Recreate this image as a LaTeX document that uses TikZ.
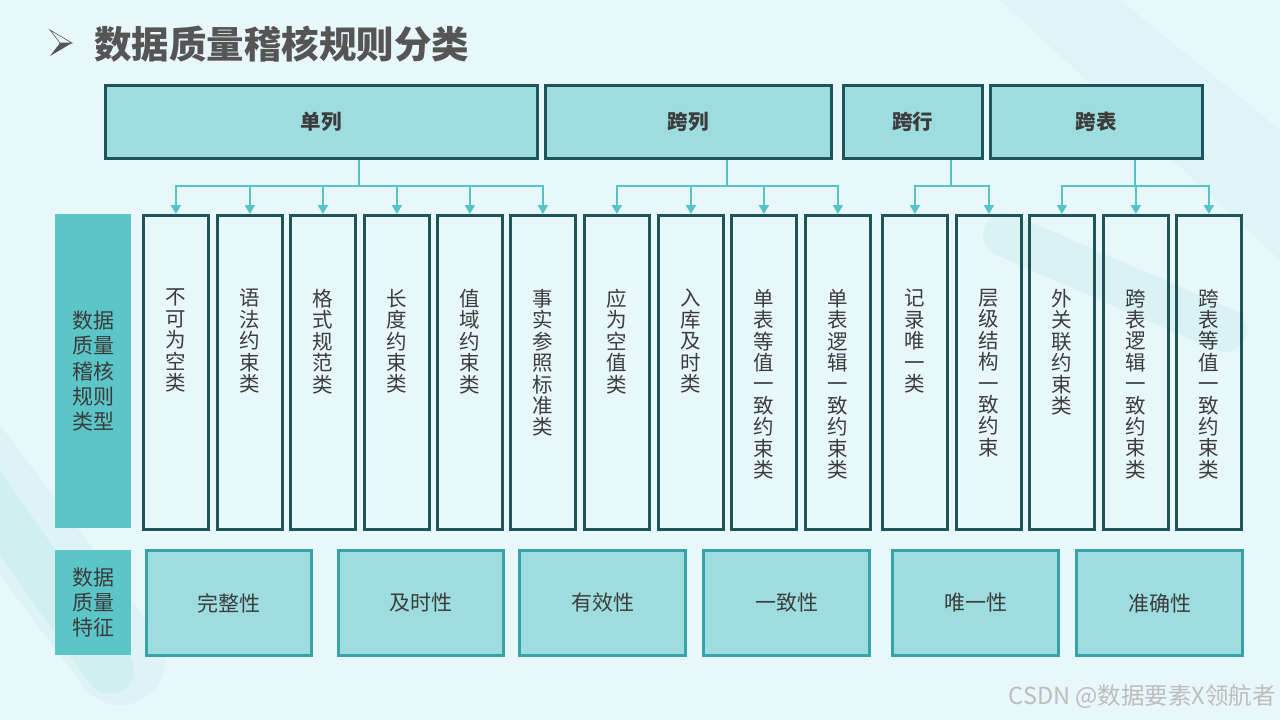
\documentclass[tikz,border=0pt]{standalone}
\usepackage{fontspec}
\setmainfont{Noto Sans CJK SC}
\usetikzlibrary{arrows.meta,calc}
\definecolor{bg}{HTML}{E8F7FA}
\definecolor{boxfill}{HTML}{9EDDDF}
\definecolor{darkline}{HTML}{1F5558}
\definecolor{labfill}{HTML}{5BC5C8}
\definecolor{botline}{HTML}{37A2A7}
\definecolor{connc}{HTML}{55C3C8}
\definecolor{txt}{HTML}{3C3C3C}
\definecolor{titlec}{HTML}{555555}
\definecolor{deco}{HTML}{C6ECEC}
\definecolor{wm}{HTML}{BDBDBD}
\begin{document}
\begin{tikzpicture}[x=1pt,y=-1pt,
  topbox/.style={draw=darkline, line width=2.5pt, fill=boxfill, minimum height=73pt,
    anchor=north west, inner sep=0pt, font=\fontsize{20.5}{24}\selectfont\bfseries, text=txt},
  colbox/.style={draw=darkline, line width=2.8pt, minimum width=65pt, minimum height=314pt,
    anchor=north west, inner sep=0pt},
  coltext/.style={anchor=north, align=center, inner sep=0pt, text=txt,
    font=\fontsize{20.5}{21.4}\selectfont},
  labbox/.style={fill=labfill, minimum width=76pt, anchor=north west, inner sep=0pt},
  labtext/.style={align=center, inner sep=0pt, text=txt, font=\fontsize{21}{25.3}\selectfont},
  botbox/.style={draw=botline, line width=3pt, fill=boxfill, minimum width=165pt, minimum height=105pt,
    anchor=north west, inner sep=0pt, text=txt, font=\fontsize{21}{24}\selectfont},
  conn/.style={draw=connc, line width=2pt},
  arr/.style={conn, -{Triangle[width=10pt,length=9pt]}}
]
\useasboundingbox (0,0) rectangle (1280,720);
\fill[bg] (0,0) rectangle (1280,720);
% faint background decoration
\begin{scope}
\clip (0,0) rectangle (1280,720);
\draw[deco, opacity=0.3, line width=90pt, line cap=round] (-60,420) -- (120,660);
\draw[deco, opacity=0.5, line width=48pt, line cap=round] (-30,470) -- (110,670);
\fill[deco, opacity=0.25] (1000,0) -- (1120,0) -- (1280,130) -- (1280,260) -- cycle;
\draw[deco, opacity=0.4, line width=44pt, line cap=round] (1005,235) -- (1225,330);
\end{scope}
% title
\fill[titlec] (60,43) -- (72,43) -- (50,56) -- cycle;
\draw[titlec, line width=0.6pt] (50,30) -- (72,43) -- (60,43) -- cycle;
\node[anchor=west, inner sep=0pt, text=titlec, font=\fontsize{37.5}{40}\selectfont\bfseries] (title) at (94,44) {数据质量稽核规则分类};
% top boxes
\node[topbox, minimum width=432pt] (p1) at (104,84) {单列};
\node[topbox, minimum width=286pt] (p2) at (544,84) {跨列};
\node[topbox, minimum width=139pt] (p3) at (842,84) {跨行};
\node[topbox, minimum width=212pt] (p4) at (989,84) {跨表};
% label boxes
\node[labbox, minimum height=314pt] (l1) at (55,214) {};
\node[labtext] (l1t) at (l1.center) {数据\\质量\\稽核\\规则\\类型};
\node[labbox, minimum height=105pt] (l2) at (55,550) {};
\node[labtext] (l2t) at (l2.center) {数据\\质量\\特征};
% column boxes
\foreach \i/\xx in {1/142,2/216,3/289,4/363,5/436,6/509,7/583,8/657,9/730,10/804,11/881,12/955,13/1028,14/1102,15/1175}
  \node[colbox] (c\i) at (\xx,214) {};
\node[coltext] (t1) at ([yshift=-75pt]c1.north) {不\\可\\为\\空\\类};
\node[coltext] (t2) at ([yshift=-75pt]c2.north) {语\\法\\约\\束\\类};
\node[coltext] (t3) at ([yshift=-75pt]c3.north) {格\\式\\规\\范\\类};
\node[coltext] (t4) at ([yshift=-75pt]c4.north) {长\\度\\约\\束\\类};
\node[coltext] (t5) at ([yshift=-75pt]c5.north) {值\\域\\约\\束\\类};
\node[coltext] (t6) at ([yshift=-75pt]c6.north) {事\\实\\参\\照\\标\\准\\类};
\node[coltext] (t7) at ([yshift=-75pt]c7.north) {应\\为\\空\\值\\类};
\node[coltext] (t8) at ([yshift=-75pt]c8.north) {入\\库\\及\\时\\类};
\node[coltext] (t9) at ([yshift=-75pt]c9.north) {单\\表\\等\\值\\一\\致\\约\\束\\类};
\node[coltext] (t10) at ([yshift=-75pt]c10.north) {单\\表\\逻\\辑\\一\\致\\约\\束\\类};
\node[coltext] (t11) at ([yshift=-75pt]c11.north) {记\\录\\唯\\一\\类};
\node[coltext] (t12) at ([yshift=-75pt]c12.north) {层\\级\\结\\构\\一\\致\\约\\束};
\node[coltext] (t13) at ([yshift=-75pt]c13.north) {外\\关\\联\\约\\束\\类};
\node[coltext] (t14) at ([yshift=-75pt]c14.north) {跨\\表\\逻\\辑\\一\\致\\约\\束\\类};
\node[coltext] (t15) at ([yshift=-75pt]c15.north) {跨\\表\\等\\值\\一\\致\\约\\束\\类};
% bottom boxes
\node[botbox] (b1) at (145,549) {完整性};
\node[botbox] (b2) at (337,549) {及时性};
\node[botbox, minimum width=166pt] (b3) at (518,549) {有效性};
\node[botbox, minimum width=166pt] (b4) at (702,549) {一致性};
\node[botbox, minimum width=166pt] (b5) at (891,549) {唯一性};
\node[botbox, minimum width=166pt] (b6) at (1075,549) {准确性};
% connectors
\coordinate (j1) at (358.5,186);
\coordinate (j2) at (726.5,186);
\coordinate (j3) at (950.5,186);
\coordinate (j4) at (1134.5,186);
\draw[conn] (j1 |- p1.south) -- (j1);
\draw[conn] (j2 |- p2.south) -- (j2);
\draw[conn] (j3 |- p3.south) -- (j3);
\draw[conn] (j4 |- p4.south) -- (j4);
\foreach \k in {1,...,6} \draw[arr] (j1) -| (c\k.north);
\foreach \k in {7,...,10} \draw[arr] (j2) -| (c\k.north);
\foreach \k in {11,12} \draw[arr] (j3) -| (c\k.north);
\foreach \k in {13,14,15} \draw[arr] (j4) -| (c\k.north);
% watermark
\node[anchor=east, inner sep=0pt, text=wm, font=\fontsize{23.5}{26}\selectfont] (wmk) at (1276,697) {CSDN @数据要素X领航者};
\end{tikzpicture}
\end{document}
